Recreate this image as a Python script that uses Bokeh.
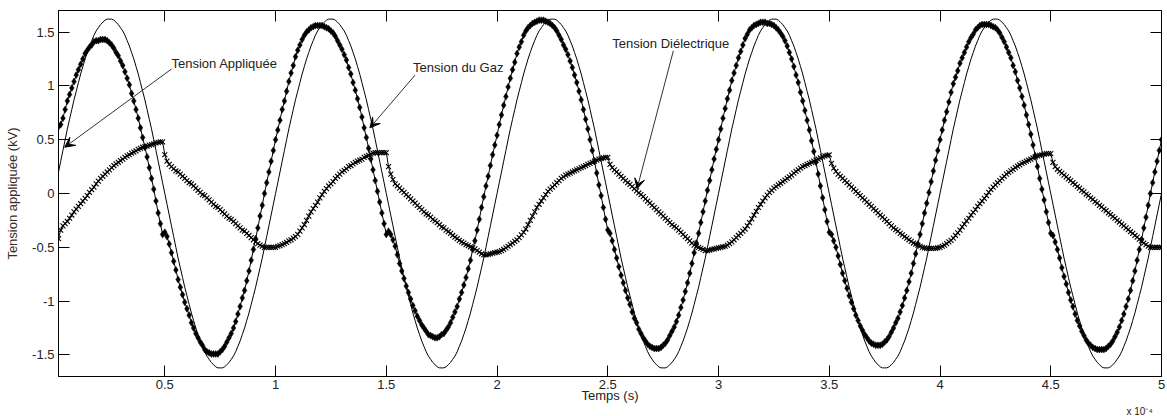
import numpy as np
from bokeh.plotting import figure
from bokeh.models import (Range1d, LinearAxis, FixedTicker, CustomJSTickFormatter,
                          Label, Arrow, VeeHead, ColumnDataSource)
from bokeh.embed import file_html
from bokeh.resources import INLINE

# Sampling: one point per microsecond, first sample at 2 us
T_DEBUT_US = 2

# ---------------- Tension appliquée (kV), thin line ----------------
va_p1 = [0.20, 0.30, 0.40, 0.50, 0.60, 0.69, 0.78, 0.87, 0.95,
         1.03, 1.11, 1.18, 1.25, 1.31, 1.37, 1.42, 1.47, 1.51, 1.54,
         1.57, 1.59, 1.61, 1.62, 1.62, 1.62, 1.61, 1.59, 1.57, 1.54,
         1.51, 1.47, 1.42, 1.37, 1.31, 1.25, 1.18, 1.11, 1.03, 0.95,
         0.87, 0.78, 0.69, 0.60, 0.50, 0.40, 0.30, 0.20, 0.10, 0.00,
         -0.10, -0.20, -0.30, -0.40, -0.50, -0.60, -0.69, -0.78, -0.87, -0.95,
         -1.03, -1.11, -1.18, -1.25, -1.31, -1.37, -1.42, -1.47, -1.51, -1.54,
         -1.57, -1.59, -1.61, -1.62, -1.62, -1.62, -1.61, -1.59, -1.57, -1.54,
         -1.51, -1.47, -1.42, -1.37, -1.31, -1.25, -1.18, -1.11, -1.03, -0.95,
         -0.87, -0.78, -0.69, -0.60, -0.50, -0.40, -0.30, -0.20, -0.10, 0.00]
va_p2 = [0.10, 0.20, 0.30, 0.40, 0.50, 0.60, 0.69, 0.78, 0.87, 0.95,
         1.03, 1.11, 1.18, 1.25, 1.31, 1.37, 1.42, 1.47, 1.51, 1.54,
         1.57, 1.59, 1.61, 1.62, 1.62, 1.62, 1.61, 1.59, 1.57, 1.54,
         1.51, 1.47, 1.42, 1.37, 1.31, 1.25, 1.18, 1.11, 1.03, 0.95,
         0.87, 0.78, 0.69, 0.60, 0.50, 0.40, 0.30, 0.20, 0.10, 0.00,
         -0.10, -0.20, -0.30, -0.40, -0.50, -0.60, -0.69, -0.78, -0.87, -0.95,
         -1.03, -1.11, -1.18, -1.25, -1.31, -1.37, -1.42, -1.47, -1.51, -1.54,
         -1.57, -1.59, -1.61, -1.62, -1.62, -1.62, -1.61, -1.59, -1.57, -1.54,
         -1.51, -1.47, -1.42, -1.37, -1.31, -1.25, -1.18, -1.11, -1.03, -0.95,
         -0.87, -0.78, -0.69, -0.60, -0.50, -0.40, -0.30, -0.20, -0.10, 0.00]
va_p3 = [0.10, 0.20, 0.30, 0.40, 0.50, 0.60, 0.69, 0.78, 0.87, 0.95,
         1.03, 1.11, 1.18, 1.25, 1.31, 1.37, 1.42, 1.47, 1.51, 1.54,
         1.57, 1.59, 1.61, 1.62, 1.62, 1.62, 1.61, 1.59, 1.57, 1.54,
         1.51, 1.47, 1.42, 1.37, 1.31, 1.25, 1.18, 1.11, 1.03, 0.95,
         0.87, 0.78, 0.69, 0.60, 0.50, 0.40, 0.30, 0.20, 0.10, 0.00,
         -0.10, -0.20, -0.30, -0.40, -0.50, -0.60, -0.69, -0.78, -0.87, -0.95,
         -1.03, -1.11, -1.18, -1.25, -1.31, -1.37, -1.42, -1.47, -1.51, -1.54,
         -1.57, -1.59, -1.61, -1.62, -1.62, -1.62, -1.61, -1.59, -1.57, -1.54,
         -1.51, -1.47, -1.42, -1.37, -1.31, -1.25, -1.18, -1.11, -1.03, -0.95,
         -0.87, -0.78, -0.69, -0.60, -0.50, -0.40, -0.30, -0.20, -0.10, 0.00]
va_p4 = [0.10, 0.20, 0.30, 0.40, 0.50, 0.60, 0.69, 0.78, 0.87, 0.95,
         1.03, 1.11, 1.18, 1.25, 1.31, 1.37, 1.42, 1.47, 1.51, 1.54,
         1.57, 1.59, 1.61, 1.62, 1.62, 1.62, 1.61, 1.59, 1.57, 1.54,
         1.51, 1.47, 1.42, 1.37, 1.31, 1.25, 1.18, 1.11, 1.03, 0.95,
         0.87, 0.78, 0.69, 0.60, 0.50, 0.40, 0.30, 0.20, 0.10, 0.00,
         -0.10, -0.20, -0.30, -0.40, -0.50, -0.60, -0.69, -0.78, -0.87, -0.95,
         -1.03, -1.11, -1.18, -1.25, -1.31, -1.37, -1.42, -1.47, -1.51, -1.54,
         -1.57, -1.59, -1.61, -1.62, -1.62, -1.62, -1.61, -1.59, -1.57, -1.54,
         -1.51, -1.47, -1.42, -1.37, -1.31, -1.25, -1.18, -1.11, -1.03, -0.95,
         -0.87, -0.78, -0.69, -0.60, -0.50, -0.40, -0.30, -0.20, -0.10, 0.00]
va_p5 = [0.10, 0.20, 0.30, 0.40, 0.50, 0.60, 0.69, 0.78, 0.87, 0.95,
         1.03, 1.11, 1.18, 1.25, 1.31, 1.37, 1.42, 1.47, 1.51, 1.54,
         1.57, 1.59, 1.61, 1.62, 1.62, 1.62, 1.61, 1.59, 1.57, 1.54,
         1.51, 1.47, 1.42, 1.37, 1.31, 1.25, 1.18, 1.11, 1.03, 0.95,
         0.87, 0.78, 0.69, 0.60, 0.50, 0.40, 0.30, 0.20, 0.10, 0.00,
         -0.10, -0.20, -0.30, -0.40, -0.50, -0.60, -0.69, -0.78, -0.87, -0.95,
         -1.03, -1.11, -1.18, -1.25, -1.31, -1.37, -1.42, -1.47, -1.51, -1.54,
         -1.57, -1.59, -1.61, -1.62, -1.62, -1.62, -1.61, -1.59, -1.57, -1.54,
         -1.51, -1.47, -1.42, -1.37, -1.31, -1.25, -1.18, -1.11, -1.03, -0.95,
         -0.87, -0.78, -0.69, -0.60, -0.50, -0.40, -0.30, -0.20, -0.10, 0.00]

# ---------------- Tension du gaz (kV), diamonds ----------------
vg_p1 = [0.62, 0.64, 0.70, 0.78, 0.86, 0.92, 0.98, 1.04, 1.10,
         1.15, 1.20, 1.25, 1.30, 1.33, 1.36, 1.38, 1.41, 1.42, 1.42,
         1.43, 1.43, 1.43, 1.42, 1.40, 1.38, 1.35, 1.31, 1.28, 1.23,
         1.19, 1.13, 1.07, 1.01, 0.93, 0.86, 0.78, 0.70, 0.61, 0.52,
         0.43, 0.34, 0.24, 0.14, 0.04, -0.07, -0.18, -0.28, -0.38, -0.36,
         -0.40, -0.47, -0.55, -0.63, -0.71, -0.80, -0.87, -0.94, -1.01, -1.07,
         -1.13, -1.20, -1.25, -1.30, -1.34, -1.38, -1.41, -1.45, -1.47, -1.48,
         -1.49, -1.49, -1.49, -1.49, -1.47, -1.45, -1.42, -1.38, -1.34, -1.30,
         -1.25, -1.19, -1.12, -1.05, -0.97, -0.90, -0.81, -0.72, -0.62, -0.52,
         -0.42, -0.32, -0.21, -0.11, 0.00, 0.10, 0.20, 0.30, 0.40, 0.50]
vg_p2 = [0.59, 0.68, 0.78, 0.86, 0.95, 1.04, 1.12, 1.19, 1.27, 1.33,
         1.38, 1.43, 1.47, 1.50, 1.52, 1.54, 1.55, 1.56, 1.56, 1.56,
         1.56, 1.55, 1.54, 1.53, 1.51, 1.49, 1.46, 1.42, 1.38, 1.34,
         1.29, 1.24, 1.17, 1.11, 1.03, 0.96, 0.88, 0.80, 0.71, 0.61,
         0.52, 0.42, 0.32, 0.22, 0.12, 0.02, -0.08, -0.18, -0.28, -0.38,
         -0.35, -0.38, -0.43, -0.49, -0.57, -0.65, -0.72, -0.79, -0.86, -0.92,
         -0.98, -1.04, -1.09, -1.14, -1.18, -1.22, -1.25, -1.28, -1.31, -1.32,
         -1.33, -1.34, -1.34, -1.33, -1.31, -1.30, -1.27, -1.24, -1.20, -1.15,
         -1.10, -1.05, -0.98, -0.92, -0.85, -0.78, -0.70, -0.62, -0.52, -0.44,
         -0.34, -0.24, -0.13, -0.03, 0.07, 0.16, 0.26, 0.36, 0.45, 0.54]
vg_p3 = [0.64, 0.73, 0.82, 0.90, 0.99, 1.07, 1.15, 1.22, 1.30, 1.36,
         1.41, 1.47, 1.51, 1.54, 1.56, 1.58, 1.59, 1.60, 1.61, 1.61,
         1.61, 1.60, 1.59, 1.58, 1.56, 1.54, 1.51, 1.47, 1.43, 1.38,
         1.34, 1.29, 1.23, 1.17, 1.10, 1.03, 0.95, 0.87, 0.78, 0.69,
         0.60, 0.50, 0.40, 0.30, 0.19, 0.08, -0.02, -0.13, -0.24, -0.34,
         -0.37, -0.44, -0.52, -0.60, -0.68, -0.76, -0.83, -0.90, -0.97, -1.03,
         -1.10, -1.16, -1.20, -1.26, -1.30, -1.34, -1.37, -1.40, -1.42, -1.43,
         -1.44, -1.44, -1.44, -1.43, -1.41, -1.39, -1.36, -1.32, -1.28, -1.24,
         -1.19, -1.13, -1.06, -0.99, -0.91, -0.83, -0.74, -0.65, -0.55, -0.46,
         -0.37, -0.27, -0.17, -0.07, 0.03, 0.12, 0.22, 0.32, 0.41, 0.50]
vg_p4 = [0.60, 0.70, 0.79, 0.88, 0.96, 1.05, 1.12, 1.19, 1.26, 1.32,
         1.38, 1.44, 1.48, 1.52, 1.54, 1.56, 1.57, 1.58, 1.59, 1.59,
         1.59, 1.58, 1.58, 1.57, 1.56, 1.54, 1.52, 1.49, 1.46, 1.42,
         1.37, 1.31, 1.25, 1.18, 1.10, 1.03, 0.94, 0.86, 0.77, 0.68,
         0.59, 0.49, 0.39, 0.29, 0.18, 0.07, -0.04, -0.15, -0.26, -0.36,
         -0.38, -0.44, -0.50, -0.58, -0.66, -0.74, -0.81, -0.88, -0.95, -1.01,
         -1.07, -1.13, -1.18, -1.23, -1.27, -1.31, -1.34, -1.37, -1.39, -1.40,
         -1.41, -1.41, -1.41, -1.40, -1.38, -1.36, -1.33, -1.29, -1.25, -1.20,
         -1.16, -1.10, -1.04, -0.97, -0.90, -0.82, -0.74, -0.65, -0.56, -0.47,
         -0.38, -0.28, -0.18, -0.09, 0.01, 0.11, 0.21, 0.31, 0.40, 0.50]
vg_p5 = [0.59, 0.68, 0.76, 0.85, 0.94, 1.02, 1.08, 1.14, 1.21, 1.26,
         1.31, 1.36, 1.41, 1.45, 1.48, 1.52, 1.54, 1.56, 1.57, 1.57,
         1.57, 1.57, 1.56, 1.55, 1.54, 1.52, 1.49, 1.45, 1.41, 1.36,
         1.31, 1.26, 1.19, 1.13, 1.05, 0.98, 0.90, 0.82, 0.73, 0.64,
         0.55, 0.45, 0.35, 0.25, 0.14, 0.04, -0.06, -0.17, -0.27, -0.37,
         -0.39, -0.45, -0.52, -0.60, -0.69, -0.77, -0.84, -0.92, -0.99, -1.05,
         -1.12, -1.18, -1.23, -1.28, -1.32, -1.36, -1.39, -1.41, -1.43, -1.44,
         -1.45, -1.45, -1.45, -1.45, -1.44, -1.42, -1.40, -1.37, -1.33, -1.29,
         -1.24, -1.18, -1.12, -1.05, -0.98, -0.90, -0.81, -0.72, -0.62, -0.52,
         -0.43, -0.32, -0.22, -0.11, 0.00, 0.10, 0.20, 0.30, 0.40, 0.50]

# ---------------- Tension diélectrique (kV), x markers ----------------
vd_p1 = [-0.42, -0.34, -0.30, -0.28, -0.26, -0.23, -0.20, -0.17, -0.145,
         -0.12, -0.095, -0.07, -0.045, -0.02, 0.01, 0.035, 0.06, 0.09, 0.115,
         0.14, 0.16, 0.18, 0.20, 0.22, 0.24, 0.26, 0.275, 0.29, 0.305,
         0.32, 0.335, 0.35, 0.36, 0.375, 0.385, 0.395, 0.41, 0.42, 0.43,
         0.435, 0.44, 0.45, 0.455, 0.46, 0.47, 0.475, 0.48, 0.48, 0.36,
         0.30, 0.27, 0.25, 0.23, 0.21, 0.20, 0.18, 0.16, 0.14, 0.12,
         0.10, 0.09, 0.07, 0.05, 0.03, 0.01, -0.01, -0.02, -0.04, -0.06,
         -0.08, -0.10, -0.12, -0.13, -0.15, -0.17, -0.19, -0.21, -0.23, -0.24,
         -0.26, -0.28, -0.30, -0.32, -0.34, -0.35, -0.37, -0.39, -0.41, -0.43,
         -0.45, -0.465, -0.48, -0.49, -0.50, -0.50, -0.50, -0.50, -0.50, -0.50]
vd_p2 = [-0.49, -0.485, -0.475, -0.465, -0.455, -0.44, -0.43, -0.415, -0.40, -0.38,
         -0.35, -0.32, -0.29, -0.25, -0.21, -0.17, -0.14, -0.11, -0.08, -0.04,
         -0.01, 0.02, 0.045, 0.07, 0.09, 0.11, 0.14, 0.16, 0.18, 0.20,
         0.215, 0.23, 0.25, 0.26, 0.275, 0.29, 0.30, 0.31, 0.32, 0.335,
         0.345, 0.355, 0.365, 0.375, 0.38, 0.38, 0.38, 0.38, 0.38, 0.38,
         0.25, 0.18, 0.13, 0.09, 0.07, 0.05, 0.03, 0.01, -0.01, -0.03,
         -0.05, -0.07, -0.09, -0.11, -0.13, -0.15, -0.17, -0.19, -0.20, -0.22,
         -0.24, -0.255, -0.27, -0.29, -0.31, -0.32, -0.34, -0.355, -0.37, -0.39,
         -0.405, -0.42, -0.435, -0.45, -0.46, -0.475, -0.485, -0.495, -0.505, -0.515,
         -0.53, -0.545, -0.56, -0.57, -0.57, -0.565, -0.56, -0.555, -0.55, -0.545]
vd_p3 = [-0.54, -0.53, -0.52, -0.505, -0.49, -0.475, -0.46, -0.445, -0.43, -0.41,
         -0.385, -0.36, -0.33, -0.29, -0.25, -0.21, -0.17, -0.13, -0.10, -0.07,
         -0.04, -0.01, 0.02, 0.04, 0.06, 0.08, 0.10, 0.12, 0.14, 0.155,
         0.17, 0.18, 0.19, 0.20, 0.21, 0.22, 0.23, 0.24, 0.25, 0.26,
         0.27, 0.28, 0.29, 0.30, 0.31, 0.32, 0.325, 0.33, 0.335, 0.335,
         0.27, 0.24, 0.22, 0.20, 0.18, 0.16, 0.14, 0.12, 0.10, 0.085,
         0.065, 0.045, 0.025, 0.005, -0.01, -0.03, -0.05, -0.07, -0.09, -0.11,
         -0.13, -0.15, -0.17, -0.19, -0.21, -0.23, -0.25, -0.27, -0.29, -0.305,
         -0.32, -0.34, -0.36, -0.38, -0.40, -0.42, -0.44, -0.46, -0.48, -0.49,
         -0.50, -0.51, -0.52, -0.53, -0.53, -0.525, -0.52, -0.515, -0.51, -0.505]
vd_p4 = [-0.50, -0.495, -0.49, -0.48, -0.465, -0.45, -0.43, -0.41, -0.39, -0.37,
         -0.35, -0.33, -0.30, -0.27, -0.235, -0.20, -0.165, -0.13, -0.10, -0.07,
         -0.04, -0.015, 0.01, 0.03, 0.05, 0.065, 0.08, 0.095, 0.11, 0.125,
         0.14, 0.155, 0.17, 0.19, 0.205, 0.22, 0.235, 0.25, 0.26, 0.27,
         0.28, 0.29, 0.30, 0.31, 0.32, 0.33, 0.34, 0.35, 0.355, 0.36,
         0.28, 0.235, 0.205, 0.18, 0.16, 0.14, 0.12, 0.10, 0.08, 0.06,
         0.04, 0.02, 0.00, -0.02, -0.04, -0.06, -0.08, -0.10, -0.12, -0.14,
         -0.16, -0.18, -0.20, -0.22, -0.24, -0.26, -0.28, -0.30, -0.32, -0.335,
         -0.35, -0.37, -0.385, -0.40, -0.415, -0.43, -0.445, -0.46, -0.47, -0.48,
         -0.49, -0.50, -0.505, -0.51, -0.51, -0.51, -0.51, -0.51, -0.505, -0.50]
vd_p5 = [-0.49, -0.48, -0.465, -0.45, -0.435, -0.415, -0.39, -0.365, -0.34, -0.31,
         -0.285, -0.255, -0.23, -0.20, -0.175, -0.15, -0.12, -0.095, -0.07, -0.045,
         -0.02, 0.01, 0.035, 0.06, 0.08, 0.10, 0.12, 0.14, 0.16, 0.18,
         0.195, 0.21, 0.225, 0.24, 0.255, 0.265, 0.28, 0.29, 0.30, 0.31,
         0.32, 0.33, 0.34, 0.35, 0.355, 0.36, 0.365, 0.37, 0.37, 0.37,
         0.29, 0.25, 0.225, 0.205, 0.19, 0.17, 0.155, 0.135, 0.12, 0.10,
         0.085, 0.065, 0.05, 0.03, 0.015, -0.005, -0.02, -0.04, -0.055, -0.075,
         -0.09, -0.11, -0.125, -0.145, -0.16, -0.18, -0.195, -0.215, -0.23, -0.25,
         -0.265, -0.285, -0.30, -0.32, -0.335, -0.355, -0.37, -0.39, -0.405, -0.425,
         -0.44, -0.46, -0.475, -0.49, -0.50, -0.50, -0.50, -0.50, -0.50, -0.50]

x_ticks = [0.5, 1, 1.5, 2, 2.5, 3, 3.5, 4, 4.5, 5]
y_ticks = [-1.5, -1, -0.5, 0, 0.5, 1, 1.5]

tension_appliquee = va_p1 + va_p2 + va_p3 + va_p4 + va_p5
tension_gaz = vg_p1 + vg_p2 + vg_p3 + vg_p4 + vg_p5
tension_dielectrique = vd_p1 + vd_p2 + vd_p3 + vd_p4 + vd_p5


def temps_axe(n):
    # time in units of 1e-4 s (1 us = 0.01)
    return (T_DEBUT_US + np.arange(n)) / 100.0


FONT = "Liberation Sans"
TXT = "#222222"

p = figure(width=1167, height=416, output_backend="svg", toolbar_location=None,
           x_range=Range1d(0.02, 5.0), y_range=Range1d(-1.7, 1.7),
           min_border_left=58, min_border_right=6, min_border_top=10,
           min_border_bottom=40)
p.background_fill_color = "white"
p.border_fill_color = "white"
p.outline_line_color = "black"
p.outline_line_width = 1
p.xgrid.visible = False
p.ygrid.visible = False

src_a = ColumnDataSource(dict(x=temps_axe(len(tension_appliquee)), y=tension_appliquee))
src_g = ColumnDataSource(dict(x=temps_axe(len(tension_gaz)), y=tension_gaz))
src_d = ColumnDataSource(dict(x=temps_axe(len(tension_dielectrique)), y=tension_dielectrique))

p.line("x", "y", source=src_d, line_color="black", line_width=1)
p.scatter("x", "y", source=src_d, marker="x", size=7, line_color="black", line_width=1.1)
p.line("x", "y", source=src_a, line_color="black", line_width=1)
p.line("x", "y", source=src_g, line_color="black", line_width=1)
p.scatter("x", "y", source=src_g, marker="diamond", size=7, fill_color="black",
          line_color="black", line_width=0.5)

fmt = CustomJSTickFormatter(code="return String(Math.round(tick*10)/10);")
blank = CustomJSTickFormatter(code="return '';")


def style_axis(ax, ticks, labels=True):
    ax.ticker = FixedTicker(ticks=ticks, minor_ticks=[])
    ax.major_tick_in = 11
    ax.major_tick_out = 0
    ax.minor_tick_in = 0
    ax.minor_tick_out = 0
    ax.major_tick_line_color = "black"
    ax.axis_line_color = "black"
    ax.major_label_text_font = FONT
    ax.major_label_text_font_size = "13px"
    ax.major_label_text_color = TXT
    ax.axis_label_text_font = FONT
    ax.axis_label_text_font_size = "13px"
    ax.axis_label_text_font_style = "normal"
    ax.axis_label_text_color = TXT
    if labels:
        ax.formatter = fmt
    else:
        ax.formatter = blank
        ax.major_label_standoff = 0


xa = p.xaxis[0]
style_axis(xa, x_ticks)
xa.axis_label = "Temps (s)"
xa.major_label_standoff = 3
xa.axis_label_standoff = -4

ya = p.yaxis[0]
style_axis(ya, y_ticks)
ya.axis_label = "Tension appliquée (kV)"
ya.major_label_standoff = 4
ya.axis_label_standoff = 9
ya.axis_label_text_color = "#3a2a2a"

top = LinearAxis()
style_axis(top, x_ticks, labels=False)
p.add_layout(top, "above")
right = LinearAxis()
style_axis(right, y_ticks, labels=False)
p.add_layout(right, "right")

# exponent of the time axis, placed in the bottom side panel (not clipped)
p.add_layout(Label(x=1068, y=5, x_units="screen", y_units="screen", text="x 10\u207b\u2074",
                   text_font=FONT, text_font_size="10px", text_color=TXT,
                   text_baseline="middle", text_align="left"), "below")

# annotations with arrows
annotations = [
    ("Tension Appliquée", 0.53, 1.205, (0.53, 1.156), (0.048, 0.43)),
    ("Tension du Gaz", 1.621, 1.168, (1.63, 1.10), (1.426, 0.61)),
    ("Tension Diélectrique", 2.52, 1.396, (2.796, 1.326), (2.632, 0.044)),
]
for txt, tx, ty, (x0, y0), (x1, y1) in annotations:
    p.add_layout(Label(x=tx, y=ty, text=txt, text_font=FONT, text_font_size="13px",
                       text_color=TXT, text_baseline="middle", text_align="left"))
    p.add_layout(Arrow(x_start=x0, y_start=y0, x_end=x1, y_end=y1,
                       line_color="#333333", line_width=1,
                       end=VeeHead(size=10, fill_color="black", line_color="black",
                                   line_width=1)))

open("out.html", "w").write(file_html(p, INLINE))
